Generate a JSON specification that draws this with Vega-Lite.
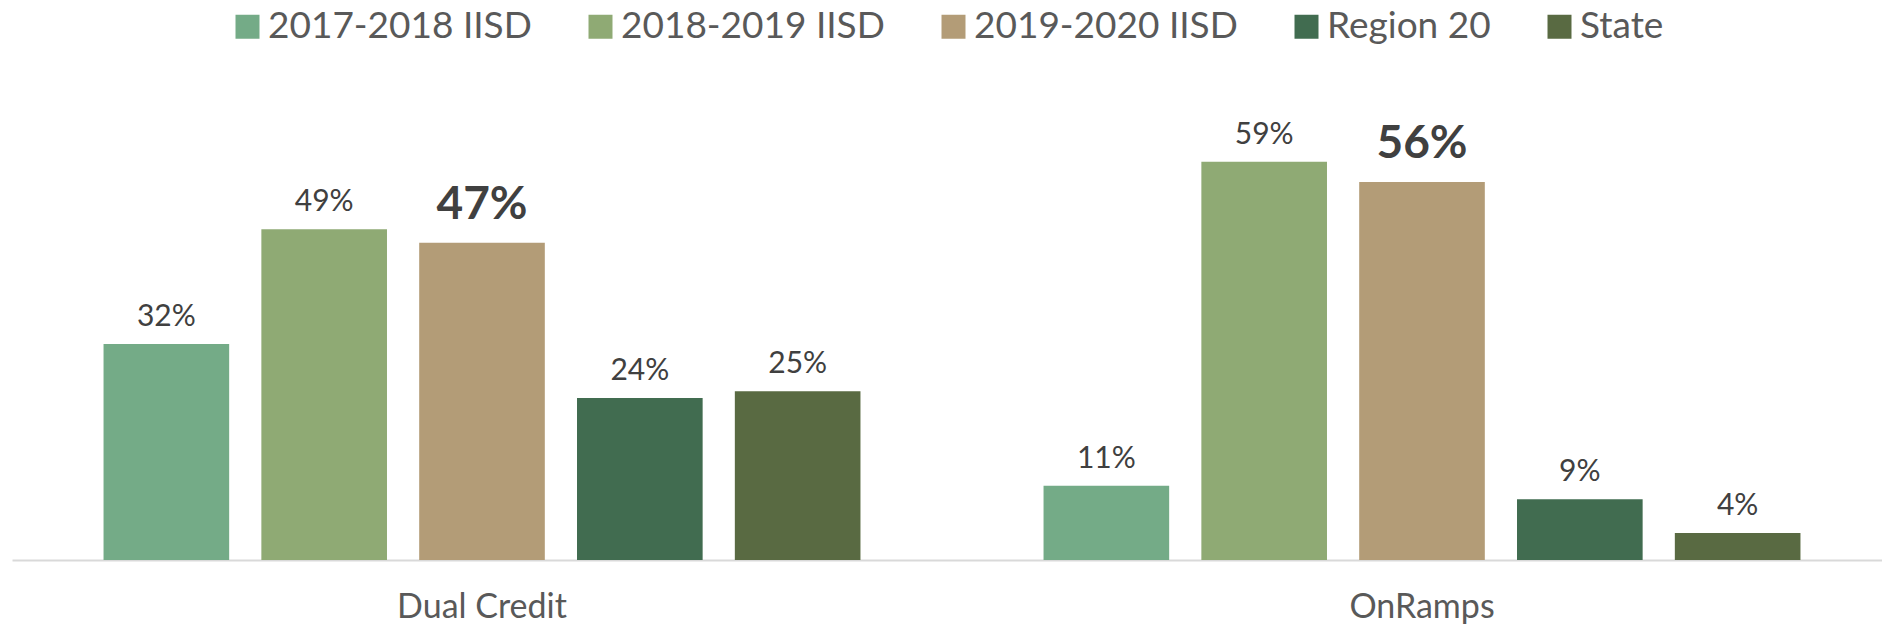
{
  "$schema": "https://vega.github.io/schema/vega-lite/v6.json",
  "width": 1870,
  "height": 480,
  "autosize": {"type": "none"},
  "padding": {"left": 12, "right": 0, "top": 80, "bottom": 70},
  "background": "white",
  "config": {
    "view": {"stroke": null},
    "font": "Lato"
  },
  "data": {
    "values": [
      {"category": "Dual Credit", "series": "2017-2018 IISD", "value": 0.32},
      {"category": "Dual Credit", "series": "2018-2019 IISD", "value": 0.49},
      {"category": "Dual Credit", "series": "2019-2020 IISD", "value": 0.47},
      {"category": "Dual Credit", "series": "Region 20", "value": 0.24},
      {"category": "Dual Credit", "series": "State", "value": 0.25},
      {"category": "OnRamps", "series": "2017-2018 IISD", "value": 0.11},
      {"category": "OnRamps", "series": "2018-2019 IISD", "value": 0.59},
      {"category": "OnRamps", "series": "2019-2020 IISD", "value": 0.56},
      {"category": "OnRamps", "series": "Region 20", "value": 0.09},
      {"category": "OnRamps", "series": "State", "value": 0.04}
    ]
  },
  "encoding": {
    "x": {
      "field": "category",
      "type": "nominal",
      "sort": null,
      "scale": {"paddingInner": 0, "paddingOuter": 0, "range": [0, 1880]},
      "axis": {
        "title": null,
        "labelAngle": 0,
        "ticks": false,
        "tickSize": 0,
        "domainColor": "#d9d9d9",
        "domainWidth": 2,
        "labelFontSize": 34,
        "labelColor": "#595959",
        "labelFont": "Lato",
        "labelPadding": 30,
        "grid": false
      }
    },
    "xOffset": {
      "field": "series",
      "type": "nominal",
      "sort": null,
      "scale": {"paddingInner": 0.204, "paddingOuter": 0.58}
    },
    "y": {
      "field": "value",
      "type": "quantitative",
      "scale": {"domain": [0, 0.7111], "nice": false},
      "axis": null
    }
  },
  "layer": [
    {
      "mark": {"type": "bar"},
      "encoding": {
        "color": {
          "field": "series",
          "type": "nominal",
          "sort": null,
          "scale": {
            "domain": ["2017-2018 IISD", "2018-2019 IISD", "2019-2020 IISD", "Region 20", "State"],
            "range": ["#74ab87", "#8faa74", "#b39c77", "#416c50", "#596a42"]
          },
          "legend": {
            "title": null,
            "orient": "none",
            "direction": "horizontal",
            "legendX": 217,
            "legendY": -72,
            "padding": 0,
            "symbolType": "square",
            "symbolSize": 576,
            "symbolStrokeWidth": 0,
            "labelFontSize": 37,
            "labelFont": "Lato",
            "labelColor": "#595959",
            "labelOffset": 2,
            "columnPadding": 50,
            "labelLimit": 400
          }
        }
      }
    },
    {
      "transform": [{"filter": "datum.series != '2019-2020 IISD'"}],
      "mark": {"type": "text", "baseline": "alphabetic", "dy": -18, "fontSize": 30, "font": "Lato", "color": "#404040"},
      "encoding": {
        "text": {"field": "value", "type": "quantitative", "format": ".0%"}
      }
    },
    {
      "transform": [{"filter": "datum.series == '2019-2020 IISD'"}],
      "mark": {"type": "text", "baseline": "alphabetic", "dy": -24, "fontSize": 46, "fontWeight": "bold", "font": "Lato", "color": "#404040"},
      "encoding": {
        "text": {"field": "value", "type": "quantitative", "format": ".0%"}
      }
    }
  ]
}
